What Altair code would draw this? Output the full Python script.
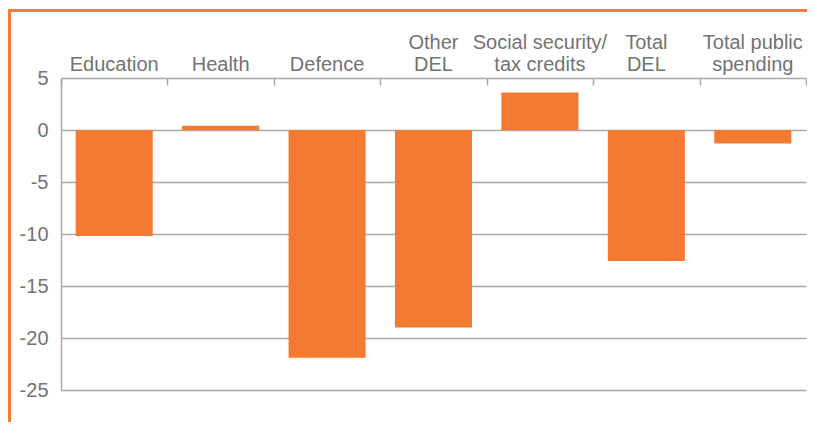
import altair as alt
import pandas as pd

categories = ["Education", "Health", "Defence", "Other\nDEL",
              "Social security/\ntax credits", "Total\nDEL", "Total public\nspending"]
values = [-10.2, 0.4, -21.9, -19.0, 3.6, -12.6, -1.3]
y_ticks = [5, 0, -5, -10, -15, -20, -25]

df = pd.DataFrame({"category": categories, "value": values})

ORANGE = "#F47A33"
FRAME = "#F47C36"
GRID = "#aca7a2"
TEXT = "#737373"
FONT = "Liberation Sans"

W, H = 745, 312

xscale = alt.Scale(paddingInner=0.276, paddingOuter=0.138)
tick_scale = alt.Scale(paddingInner=0, paddingOuter=0)
yscale = alt.Scale(domain=[-25, 5], nice=False, zero=False)

label_expr = ("length(split(datum.label, '\\n')) > 1 ? split(datum.label, '\\n') "
              ": ['', datum.label]")

bars = alt.Chart(df).mark_bar(color=ORANGE).encode(
    x=alt.X("category:N", sort=None, scale=xscale,
            axis=alt.Axis(orient="top", title=None, labelAngle=0, ticks=False,
                          domain=False, labelPadding=26, labelFont=FONT,
                          labelFontSize=20, labelColor=TEXT, labelLineHeight=22,
                          labelLimit=0, labelExpr=label_expr)),
    y=alt.Y("value:Q", scale=yscale,
            axis=alt.Axis(title=None, values=y_ticks, ticks=False, domain=True,
                          domainColor=GRID, domainWidth=1.5, grid=True,
                          gridColor=GRID, gridWidth=1.5, labelFont=FONT,
                          labelFontSize=20, labelColor=TEXT, labelPadding=13,
                          labelExpr="'' + datum.value")),
)

tick_layer = alt.Chart(df).mark_bar(opacity=0).encode(
    x=alt.X("category:N", sort=None, scale=tick_scale,
            axis=alt.Axis(orient="bottom", offset=-H, title=None, labels=False,
                          domain=False, ticks=True, tickSize=7, tickWidth=1.5,
                          tickColor=GRID, tickBand="extent")),
)

frame_left = alt.Chart(df).mark_rule(color=FRAME, strokeWidth=3).encode(
    x=alt.value(-51.5), y=alt.value(-69), y2=alt.value(360))
frame_top = alt.Chart(df).mark_rule(color=FRAME, strokeWidth=3).encode(
    x=alt.value(-53), x2=alt.value(760), y=alt.value(-67.5))

chart = alt.layer(tick_layer, bars, frame_left, frame_top).resolve_scale(
    x="independent"
).resolve_axis(
    x="independent"
).properties(
    width=W, height=H,
    autosize=alt.AutoSizeParams(type="none"),
    padding={"left": 53, "top": 70, "right": 1, "bottom": 32},
).configure_view(stroke=None)

chart.save("out.html", embed_options={"renderer": "svg", "actions": False})
